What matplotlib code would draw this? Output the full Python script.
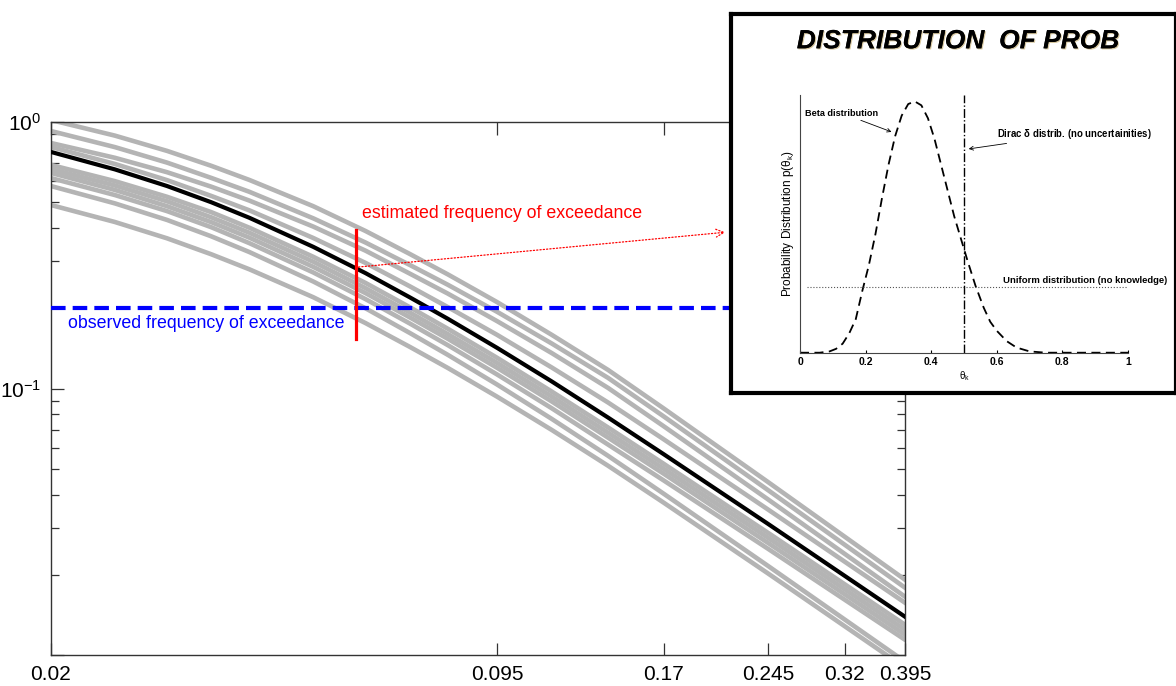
import numpy as np
import matplotlib
matplotlib.use("Agg")
import matplotlib.pyplot as plt
import matplotlib.patheffects as pe
from matplotlib.ticker import NullFormatter, NullLocator

plt.rcParams['font.family'] = ['Liberation Sans', 'DejaVu Sans']
plt.rcParams['mathtext.default'] = 'regular'

# ---- main chart data ----
x_pts = [0.02, 0.025, 0.03, 0.035, 0.04, 0.05, 0.06, 0.07, 0.08, 0.095,
         0.115, 0.14, 0.17, 0.245, 0.395]
mean_curve = [0.772, 0.664, 0.575, 0.500, 0.437, 0.340, 0.271, 0.220, 0.1826,
              0.1421, 0.1063, 0.0778, 0.0567, 0.0310, 0.01392]
sample_curves = [
    [1.017, 0.889, 0.779, 0.685, 0.606, 0.483, 0.390, 0.320, 0.268, 0.211,
     0.159, 0.1174, 0.0842, 0.0445, 0.01917],
    [0.925, 0.805, 0.704, 0.617, 0.547, 0.435, 0.353, 0.291, 0.245, 0.194,
     0.1475, 0.1096, 0.0786, 0.0415, 0.01789],
    [0.834, 0.734, 0.648, 0.572, 0.507, 0.405, 0.329, 0.270, 0.227, 0.179,
     0.1358, 0.1005, 0.0722, 0.0383, 0.01655],
    [0.806, 0.696, 0.605, 0.528, 0.466, 0.367, 0.296, 0.242, 0.202, 0.159,
     0.1199, 0.0886, 0.0645, 0.0351, 0.01571],
    [0.690, 0.600, 0.524, 0.459, 0.401, 0.312, 0.249, 0.202, 0.1675, 0.1304,
     0.0974, 0.0714, 0.0522, 0.0287, 0.01299],
    [0.666, 0.578, 0.504, 0.439, 0.384, 0.299, 0.238, 0.193, 0.160, 0.1248,
     0.0933, 0.0683, 0.0500, 0.0275, 0.01244],
    [0.644, 0.556, 0.483, 0.421, 0.368, 0.286, 0.228, 0.185, 0.1536, 0.1196,
     0.0894, 0.0654, 0.0479, 0.0263, 0.01192],
    [0.616, 0.532, 0.463, 0.403, 0.351, 0.2725, 0.2165, 0.1755, 0.1454, 0.1129,
     0.0843, 0.0616, 0.0452, 0.0250, 0.01141],
    [0.575, 0.495, 0.429, 0.3725, 0.325, 0.252, 0.200, 0.1617, 0.1337, 0.1035,
     0.0769, 0.0559, 0.0403, 0.02156, 0.00944],
    [0.488, 0.4215, 0.366, 0.319, 0.280, 0.220, 0.176, 0.1434, 0.1194, 0.0932,
     0.0699, 0.0513, 0.0373, 0.0202, 0.00896],
]
observed = 0.2
x_est = 0.058
est_low, est_high, est_mid = 0.154, 0.395, 0.285
x_ticks = [0.02, 0.095, 0.17, 0.245, 0.32, 0.395]
x_ticklabels = ['0.02', '0.095', '0.17', '0.245', '0.32', '0.395']

# ---- inset data ----
theta = [0, 0.06, 0.09, 0.11, 0.13, 0.15, 0.17, 0.19, 0.21, 0.23, 0.25, 0.27,
         0.29, 0.31, 0.33, 0.35, 0.37, 0.39, 0.41, 0.43, 0.45, 0.47, 0.49,
         0.51, 0.535, 0.56, 0.58, 0.6, 0.63, 0.66, 0.7, 0.75, 1.0]
beta_pdf = [0, 0, 0.005, 0.015, 0.035, 0.075, 0.13, 0.24, 0.34, 0.46, 0.6, 0.73,
            0.84, 0.92, 0.965, 0.975, 0.96, 0.91, 0.83, 0.73, 0.63, 0.53, 0.445,
            0.36, 0.26, 0.175, 0.12, 0.085, 0.045, 0.02, 0.005, 0, 0]
uniform_level = 0.254
dirac_at = 0.5

W, H = 1176, 686
fig = plt.figure(figsize=(W / 100, H / 100), dpi=100)
fig.patch.set_facecolor('white')

ax = fig.add_axes([51 / W, (H - 655) / H, 854 / W, 533 / H])
ax.set_xscale('log')
ax.set_yscale('log')

for c in sample_curves:
    ax.plot(x_pts, c, color='#b4b4b4', lw=3.3, zorder=2)
ax.plot(x_pts, mean_curve, color='black', lw=3.0, zorder=3)
ax.axhline(observed, color='#0000ff', lw=3.0, dashes=(3.5, 1.7), zorder=4)
ax.plot([x_est, x_est], [est_low, est_high], color='#ff0000', lw=2.3, zorder=5)

ax.set_xlim(0.02, 0.395)
ax.set_ylim(0.01, 1)
ax.set_xticks(x_ticks)
ax.set_xticklabels(x_ticklabels)
ax.xaxis.set_minor_locator(NullLocator())
ax.set_yticks([0.01, 0.1, 1])
ax.set_yticklabels(['', r'$10^{-1}$', r'$10^{0}$'])
ax.yaxis.set_minor_formatter(NullFormatter())
ax.tick_params(which='both', direction='in', top=True, right=True,
               labelsize=15, color='#333333', width=0.9)
ax.tick_params(which='major', length=9, pad=7)
ax.tick_params(which='minor', length=6)
for s in ax.spines.values():
    s.set_color('#333333')
    s.set_linewidth(1.0)

ax.text(0.0212, 0.175, 'observed frequency of exceedance', color='#0000ff',
        fontsize=12.8, va='center', ha='left', zorder=6)
ax.text(0.0593, 0.455, 'estimated frequency of exceedance', color='#ff0000',
        fontsize=12.8, va='center', ha='left', zorder=6)
ax.annotate('', xy=(728 / W, 1 - 232 / H), xycoords='figure fraction',
            xytext=(x_est, est_mid), textcoords='data',
            arrowprops=dict(arrowstyle='->', color='#ff0000', lw=0.9,
                            linestyle=':', mutation_scale=14), zorder=6)

# ---- inset box ----
box = fig.add_axes([731 / W, (H - 393) / H, (W - 731) / W, 379 / H])
box.set_xticks([])
box.set_yticks([])
box.set_facecolor('white')
for s in box.spines.values():
    s.set_linewidth(3.0)
    s.set_color('black')
box.set_zorder(10)
box.text(0.51, 0.928, 'DISTRIBUTION  OF PROB', transform=box.transAxes,
         ha='center', va='center', fontsize=19, fontweight='bold',
         fontstyle='italic',
         path_effects=[pe.withSimplePatchShadow(offset=(0.8, -0.8),
                                                shadow_rgbFace='#b09040', alpha=0.5),
                       pe.Normal()])

ins = fig.add_axes([800 / W, (H - 352.7) / H, 328 / W, 257.7 / H])
ins.set_zorder(11)
ins.patch.set_alpha(0)
ins.plot(theta, beta_pdf, color='black', lw=1.3, dashes=(5, 3))
ins.plot([0.02, 1.0], [uniform_level, uniform_level], color='#555555', lw=0.8, ls=':')
ins.plot([dirac_at, dirac_at], [0, 1], color='black', lw=1.0, ls='-.')
ins.set_xlim(0, 1)
ins.set_ylim(0, 1)
ins.spines['top'].set_visible(False)
ins.spines['right'].set_visible(False)
ins.spines['left'].set_color('#444444')
ins.spines['bottom'].set_color('#444444')
ins.set_yticks([])
ins.set_xticks([0, 0.2, 0.4, 0.6, 0.8, 1])
ins.set_xticklabels(['0', '0.2', '0.4', '0.6', '0.8', '1'])
ins.tick_params(axis='x', direction='in', length=2, labelsize=7.5, pad=3)
for lbl in ins.get_xticklabels():
    lbl.set_fontweight('bold')
ins.set_xlabel(r'$\theta_k$', fontsize=7, labelpad=2)
ins.set_ylabel(r'Probability Distribution p($\theta_k$)', fontsize=8.5, labelpad=3)

ins.annotate('Beta distribution', xy=(0.283, 0.855), xytext=(0.015, 0.93),
             fontsize=6.6, fontweight='bold', ha='left', va='center',
             arrowprops=dict(arrowstyle='->', color='black', lw=0.6,
                             shrinkA=0, shrinkB=1))
ins.annotate(r'Dirac $\delta$ distrib. (no uncertainities)', xy=(0.51, 0.79),
             xytext=(0.6, 0.85), fontsize=6.9, fontweight='bold', ha='left',
             va='center',
             arrowprops=dict(arrowstyle='->', color='black', lw=0.6,
                             shrinkA=0, shrinkB=1))
ins.text(0.62, 0.28, 'Uniform distribution (no knowledge)', fontsize=6.8,
         fontweight='bold', ha='left', va='center')

fig.savefig('out.png', dpi=100)
